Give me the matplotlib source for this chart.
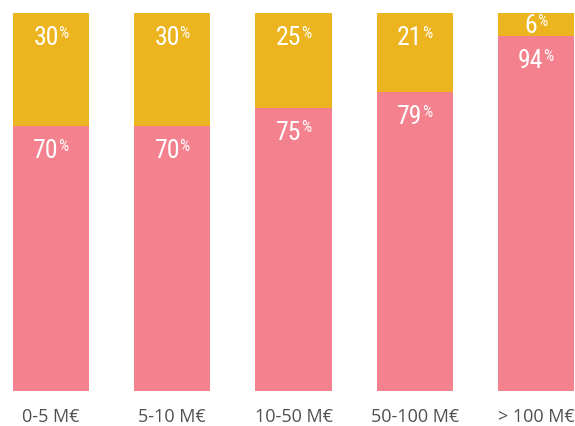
import matplotlib
matplotlib.use("Agg")
import matplotlib.pyplot as plt
from matplotlib import font_manager

categories = ["0-5 M€", "5-10 M€", "10-50 M€", "50-100 M€", "> 100 M€"]
pink_values = [70, 70, 75, 79, 94]
yellow_values = [30, 30, 25, 21, 6]

pink = "#F4828E"
yellow = "#ECB41E"

installed = {f.name for f in font_manager.fontManager.ttflist}
num_font = "DejaVu Sans"
for cand in ["Roboto Condensed", "Fira Sans Extra Condensed", "Barlow Condensed",
             "PT Sans Narrow", "Archivo Narrow", "Liberation Sans Narrow"]:
    if cand in installed:
        num_font = cand
        break

fig = plt.figure(figsize=(5.75, 4.26), dpi=100)
ax = fig.add_axes([0, 35 / 426, 1, 378 / 426])

width = 76 / 121
x = list(range(len(categories)))

ax.bar(x, pink_values, width=width, color=pink, linewidth=0)
ax.bar(x, yellow_values, width=width, bottom=pink_values, color=yellow, linewidth=0)

ax.set_xlim(-width / 2 - 13 / 121, len(categories) - 1 + width / 2 + 1 / 121)
ax.set_ylim(0, 100)

px_per_unit = 378 / 100


def label(xi, top, size, value):
    # digits centred ~23 px under segment top, or in the middle if the segment is small
    seg_px = size * px_per_unit
    drop = min(23.5, seg_px / 2) + 8.5
    num = ax.annotate(
        str(value),
        xy=(xi, top),
        xytext=(-5, -drop),
        textcoords="offset pixels",
        ha="center",
        va="baseline",
        color="white",
        fontsize=18.5,
        family=num_font,
    )
    ax.annotate(
        "%",
        xy=(1, 1),
        xycoords=num,
        xytext=(-0.5, 0),
        textcoords="offset pixels",
        ha="left",
        va="top",
        color="white",
        fontsize=11.5,
        family=num_font,
    )


for xi, p, yv in zip(x, pink_values, yellow_values):
    label(xi, p + yv, yv, yv)
    label(xi, p, p, p)

ax.set_xticks(x)
ax.set_xticklabels(categories, fontsize=13, family="Open Sans", color="#505050")
ax.tick_params(axis="x", length=0, pad=12)
ax.set_yticks([])
for s in ax.spines.values():
    s.set_visible(False)

fig.savefig("out.png", dpi=100)
